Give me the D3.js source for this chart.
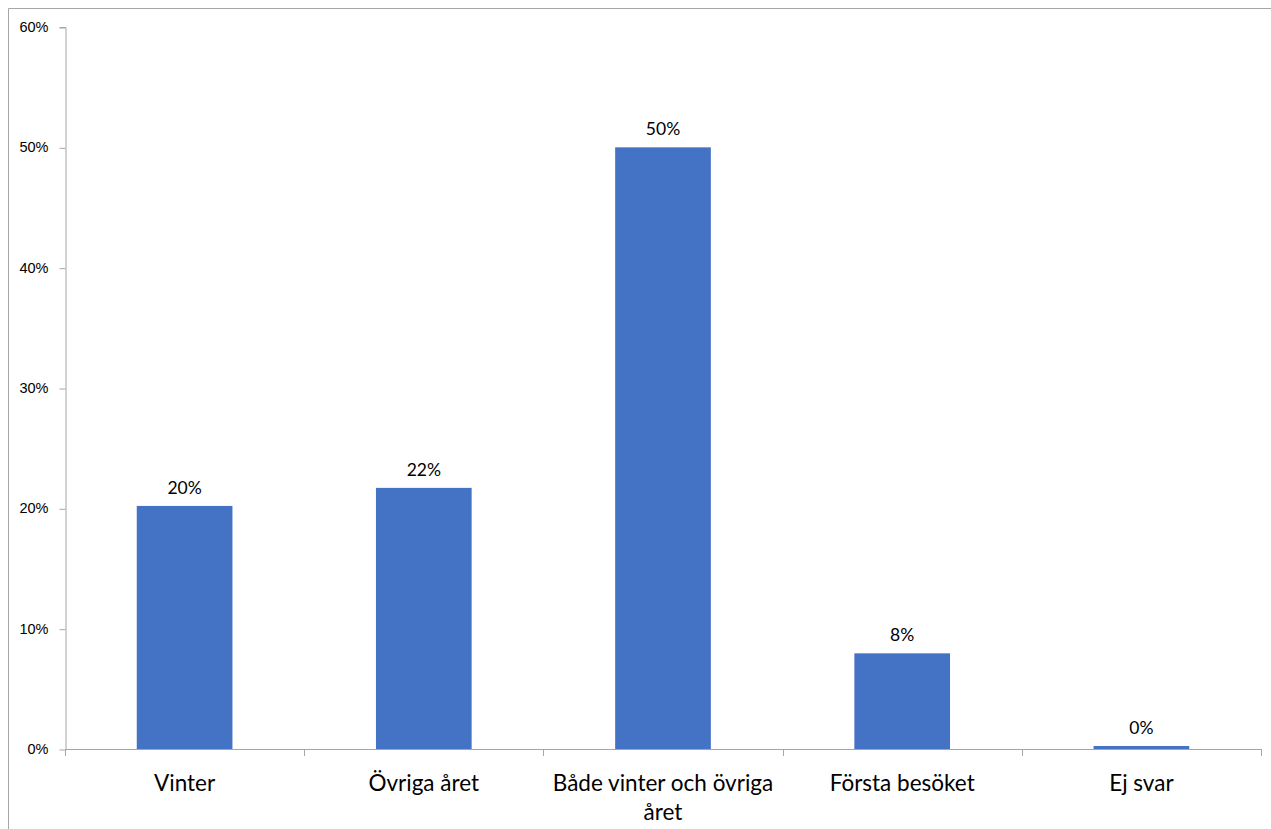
<!DOCTYPE html>
<html>
<head>
<meta charset="utf-8">
<script src="https://cdn.jsdelivr.net/npm/d3@7"></script>
<style>
  html, body { margin: 0; padding: 0; background: #fff; }
  svg { display: block; font-family: Lato, "Open Sans", sans-serif; }
</style>
</head>
<body>
<svg id="chart" width="1271" height="829"></svg>
<script>
const categories = ["Vinter", "Övriga året", "Både vinter och övriga året", "Första besöket", "Ej svar"];
const values = [0.202, 0.217, 0.500, 0.0795, 0.0025];
const valueLabels = ["20%", "22%", "50%", "8%", "0%"];
const yTicks = [0, 0.1, 0.2, 0.3, 0.4, 0.5, 0.6];

const svg = d3.select("#chart");
const axisColor = "#a6a6a6";

// outer frame (only top and left visible)
svg.append("path")
  .attr("d", "M8.5,829 L8.5,8.5 L1271,8.5")
  .attr("fill", "none").attr("stroke", axisColor).attr("stroke-width", 1);

const margin = { left: 65, right: 1261, top: 27, bottom: 749 };

const x = d3.scaleBand().domain(categories).range([margin.left, margin.right]).paddingInner(0.6).paddingOuter(0.3);
const xOuter = d3.scaleBand().domain(categories).range([margin.left, margin.right]).padding(0);
const y = d3.scaleLinear().domain([0, 0.6]).range([margin.bottom, margin.top]);

// bars
svg.append("g").selectAll("rect").data(values).join("rect")
  .attr("x", (d, i) => x(categories[i]))
  .attr("width", x.bandwidth())
  .attr("y", d => y(d))
  .attr("height", d => y(0) - y(d))
  .attr("fill", "#4472C4");

// y axis
const yAxis = d3.axisLeft(y).tickValues(yTicks).tickFormat(d3.format(".0%")).tickSize(6).tickPadding(11);
const gy = svg.append("g").attr("transform", `translate(${margin.left + 0.5},0)`).call(yAxis);
gy.select(".domain").attr("stroke", axisColor).attr("d", `M-6,${y(0.6)+0.5}H0.5V${y(0)+0.5}`);
gy.selectAll(".tick line").attr("stroke", axisColor).attr("transform", "translate(0,0.5)");
gy.selectAll(".tick text").attr("fill", "#000").style("font-size", "14.5px");

// x axis line and ticks
const gx = svg.append("g");
gx.append("line")
  .attr("x1", margin.left).attr("x2", margin.right + 0.5)
  .attr("y1", y(0) + 0.5).attr("y2", y(0) + 0.5)
  .attr("stroke", axisColor);
const tickXs = categories.map(c => xOuter(c)).concat([margin.right]);
gx.selectAll("line.tk").data(tickXs).join("line").attr("class", "tk")
  .attr("x1", d => Math.round(d) + 0.5).attr("x2", d => Math.round(d) + 0.5)
  .attr("y1", y(0)).attr("y2", y(0) + 7)
  .attr("stroke", axisColor);

// category labels (wrapped)
const wraps = [["Vinter"], ["Övriga året"], ["Både vinter och övriga", "året"], ["Första besöket"], ["Ej svar"]];
categories.forEach((c, i) => {
  const cx = xOuter(c) + xOuter.bandwidth() / 2;
  const t = svg.append("text")
    .attr("x", cx)
    .attr("y", 791)
    .attr("text-anchor", "middle")
    .style("font-size", "22.5px")
    .attr("fill", "#000");
  wraps[i].forEach((line, j) => {
    t.append("tspan").attr("x", cx).attr("dy", j === 0 ? 0 : 29).text(line);
  });
});

// value labels
svg.append("g").selectAll("text").data(values).join("text")
  .attr("x", (d, i) => x(categories[i]) + x.bandwidth() / 2)
  .attr("y", d => y(d) - 12)
  .attr("text-anchor", "middle")
  .style("font-size", "17.5px")
  .attr("fill", "#000")
  .text((d, i) => valueLabels[i]);
</script>
</body>
</html>
